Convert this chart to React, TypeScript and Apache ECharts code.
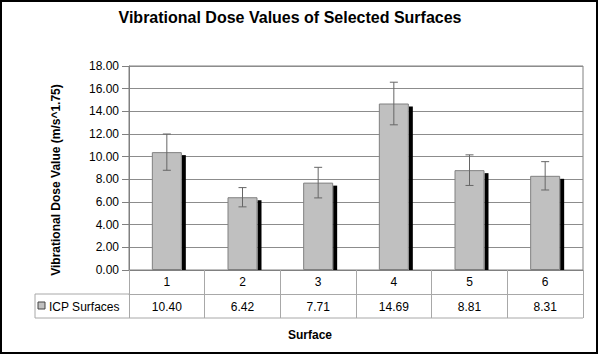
import React, { useEffect, useRef } from "react";
import * as echarts from "echarts";

const categories = ["1", "2", "3", "4", "5", "6"];
const values = [10.4, 6.42, 7.71, 14.69, 8.81, 8.31];
const errors = [1.6, 0.85, 1.35, 1.88, 1.35, 1.25];
const seriesName = "ICP Surfaces";
const title = "Vibrational Dose Values of Selected Surfaces";
const yTitle = "Vibrational Dose Value (m/s^1.75)";
const xTitle = "Surface";

const FONT = 'Arial, "Liberation Sans", sans-serif';
const GRID = { left: 129, top: 66, right: 17, bottom: 87 };
const BAR_W = 30;
const TABLE_LINE = "#a8a8a8";

export default function App() {
  const ref = useRef<HTMLDivElement>(null);
  useEffect(() => {
    if (!ref.current) return;
    const chart = echarts.init(ref.current, null, { renderer: "svg" });
    const errData = values.map((v, i) => [i, v, errors[i]]);
    const option = {
      animation: false,
      backgroundColor: "#fff",
      textStyle: { fontFamily: FONT },
      grid: {
        ...GRID,
        show: true,
        borderColor: "#808080",
        borderWidth: 1,
        backgroundColor: "transparent",
      },
      xAxis: [
        {
          type: "category",
          data: categories,
          position: "bottom",
          axisLine: { show: true, lineStyle: { color: "#808080", width: 1 } },
          axisTick: { show: true, length: 24, lineStyle: { color: TABLE_LINE } },
          axisLabel: { color: "#000", fontSize: 12, fontFamily: FONT, margin: 6 },
          splitLine: { show: false },
        },
        {
          type: "category",
          data: values.map((v) => v.toFixed(2)),
          position: "bottom",
          offset: 24,
          axisLine: { show: true, lineStyle: { color: TABLE_LINE, width: 1 } },
          axisTick: { show: true, length: 24, lineStyle: { color: TABLE_LINE } },
          axisLabel: { color: "#000", fontSize: 12, fontFamily: FONT, margin: 7 },
          splitLine: { show: false },
        },
      ],
      yAxis: {
        type: "value",
        min: 0,
        max: 18,
        interval: 2,
        axisLine: { show: true, lineStyle: { color: "#808080" } },
        axisTick: { show: true, length: 7, lineStyle: { color: "#808080" } },
        axisLabel: {
          color: "#000",
          fontSize: 12,
          fontFamily: FONT,
          margin: 10,
          formatter: (v: number) => v.toFixed(2),
        },
        splitLine: { show: true, lineStyle: { color: "#8c8c8c", width: 1 } },
      },
      series: [
        {
          type: "custom",
          name: "shadow",
          xAxisIndex: 0,
          data: values.map((v, i) => [i, v]),
          z: 1,
          renderItem: (params: any, api: any) => {
            const i = api.value(0);
            const v = api.value(1);
            const top = api.coord([i, v]);
            const base = api.coord([i, 0]);
            return {
              type: "rect",
              shape: { x: top[0] + BAR_W / 2, y: top[1] + 3, width: 4, height: base[1] - top[1] - 3 },
              style: { fill: "#000" },
            };
          },
        },
        {
          type: "bar",
          name: seriesName,
          xAxisIndex: 0,
          data: values,
          barWidth: BAR_W,
          z: 2,
          itemStyle: { color: "#c0c0c0", borderColor: "#808080", borderWidth: 1 },
        },
        {
          type: "custom",
          name: "error",
          xAxisIndex: 0,
          data: errData,
          z: 3,
          renderItem: (params: any, api: any) => {
            const i = api.value(0);
            const v = api.value(1);
            const e = api.value(2);
            const hi = api.coord([i, v + e]);
            const lo = api.coord([i, v - e]);
            const x = hi[0];
            const st = { stroke: "#666", lineWidth: 1 };
            return {
              type: "group",
              children: [
                { type: "line", shape: { x1: x, y1: hi[1], x2: x, y2: lo[1] }, style: st },
                { type: "line", shape: { x1: x - 4, y1: hi[1], x2: x + 4, y2: hi[1] }, style: st },
                { type: "line", shape: { x1: x - 4, y1: lo[1], x2: x + 4, y2: lo[1] }, style: st },
              ],
            };
          },
        },
      ],
      graphic: [
        {
          type: "rect",
          shape: { x: 1, y: 1, width: 596, height: 352 },
          style: { fill: "none", stroke: "#000", lineWidth: 2 },
          silent: true,
        },
        {
          type: "text",
          x: 290,
          y: 17,
          style: {
            text: title,
            fontSize: 16,
            fontWeight: "bold",
            fontFamily: FONT,
            fill: "#000",
            align: "center",
            verticalAlign: "middle",
          },
        },
        {
          type: "text",
          x: 56,
          y: 180,
          rotation: Math.PI / 2,
          style: {
            text: yTitle,
            fontSize: 12,
            fontWeight: "bold",
            fontFamily: FONT,
            fill: "#000",
            align: "center",
            verticalAlign: "middle",
          },
        },
        {
          type: "text",
          x: 310,
          y: 335,
          style: {
            text: xTitle,
            fontSize: 12,
            fontWeight: "bold",
            fontFamily: FONT,
            fill: "#000",
            align: "center",
            verticalAlign: "middle",
          },
        },
        {
          type: "line",
          shape: { x1: 35, y1: 318, x2: 583, y2: 318 },
          style: { stroke: TABLE_LINE, lineWidth: 1 },
        },
        {
          type: "line",
          shape: { x1: 35, y1: 294, x2: 129, y2: 294 },
          style: { stroke: TABLE_LINE, lineWidth: 1 },
        },
        {
          type: "line",
          shape: { x1: 35, y1: 294, x2: 35, y2: 318 },
          style: { stroke: TABLE_LINE, lineWidth: 1 },
        },
        {
          type: "rect",
          shape: { x: 38, y: 302, width: 7, height: 7 },
          style: { fill: "#c0c0c0", stroke: "#444", lineWidth: 1 },
        },
        {
          type: "text",
          x: 49,
          y: 307,
          style: {
            text: seriesName,
            fontSize: 12,
            fontFamily: FONT,
            fill: "#000",
            align: "left",
            verticalAlign: "middle",
          },
        },
      ],
    };
    chart.setOption(option as any);
    return () => chart.dispose();
  }, []);
  return (
    <div
      ref={ref}
      style={{ position: "fixed", left: 0, top: 0, width: 600, height: 357, background: "#fff" }}
    />
  );
}
